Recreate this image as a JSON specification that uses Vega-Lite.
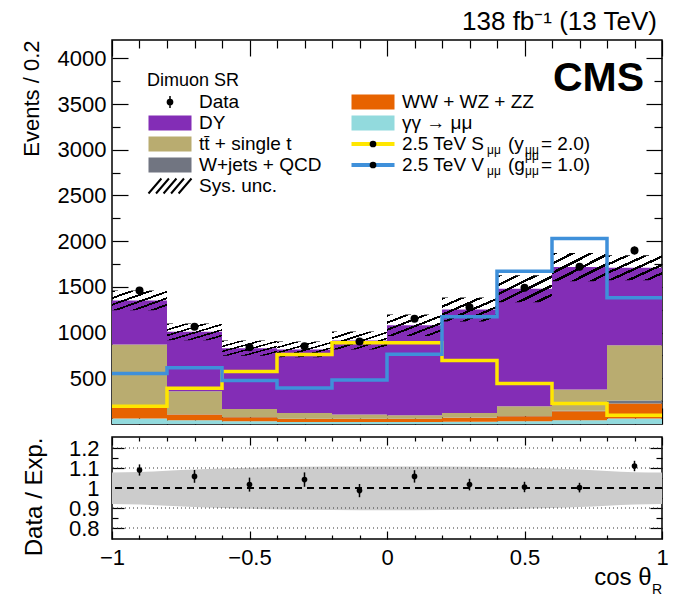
{
  "$schema": "https://vega.github.io/schema/vega-lite/v6.json",
  "padding": {"left": 19, "top": 8, "right": 5, "bottom": 5},
  "background": "white",
  "datasets": {
    "stack": [
      {"lo": -1.0, "hi": -0.8, "proc": "gg", "rank": 1, "n": 59},
      {"lo": -0.8, "hi": -0.6, "proc": "gg", "rank": 1, "n": 41},
      {"lo": -0.6, "hi": -0.4, "proc": "gg", "rank": 1, "n": 30},
      {"lo": -0.4, "hi": -0.2, "proc": "gg", "rank": 1, "n": 23},
      {"lo": -0.2, "hi": 0.0, "proc": "gg", "rank": 1, "n": 23},
      {"lo": 0.0, "hi": 0.2, "proc": "gg", "rank": 1, "n": 23},
      {"lo": 0.2, "hi": 0.4, "proc": "gg", "rank": 1, "n": 25},
      {"lo": 0.4, "hi": 0.6, "proc": "gg", "rank": 1, "n": 30},
      {"lo": 0.6, "hi": 0.8, "proc": "gg", "rank": 1, "n": 41},
      {"lo": 0.8, "hi": 1.0, "proc": "gg", "rank": 1, "n": 59},
      {"lo": -1.0, "hi": -0.8, "proc": "vv", "rank": 2, "n": 117},
      {"lo": -0.8, "hi": -0.6, "proc": "vv", "rank": 2, "n": 62},
      {"lo": -0.6, "hi": -0.4, "proc": "vv", "rank": 2, "n": 44},
      {"lo": -0.4, "hi": -0.2, "proc": "vv", "rank": 2, "n": 33},
      {"lo": -0.2, "hi": 0.0, "proc": "vv", "rank": 2, "n": 33},
      {"lo": 0.0, "hi": 0.2, "proc": "vv", "rank": 2, "n": 33},
      {"lo": 0.2, "hi": 0.4, "proc": "vv", "rank": 2, "n": 42},
      {"lo": 0.4, "hi": 0.6, "proc": "vv", "rank": 2, "n": 55},
      {"lo": 0.6, "hi": 0.8, "proc": "vv", "rank": 2, "n": 98},
      {"lo": 0.8, "hi": 1.0, "proc": "vv", "rank": 2, "n": 164},
      {"lo": -1.0, "hi": -0.8, "proc": "wj", "rank": 3, "n": 4},
      {"lo": -0.8, "hi": -0.6, "proc": "wj", "rank": 3, "n": 3},
      {"lo": -0.6, "hi": -0.4, "proc": "wj", "rank": 3, "n": 3},
      {"lo": -0.4, "hi": -0.2, "proc": "wj", "rank": 3, "n": 2},
      {"lo": -0.2, "hi": 0.0, "proc": "wj", "rank": 3, "n": 2},
      {"lo": 0.0, "hi": 0.2, "proc": "wj", "rank": 3, "n": 2},
      {"lo": 0.2, "hi": 0.4, "proc": "wj", "rank": 3, "n": 3},
      {"lo": 0.4, "hi": 0.6, "proc": "wj", "rank": 3, "n": 3},
      {"lo": 0.6, "hi": 0.8, "proc": "wj", "rank": 3, "n": 6},
      {"lo": 0.8, "hi": 1.0, "proc": "wj", "rank": 3, "n": 33},
      {"lo": -1.0, "hi": -0.8, "proc": "tt", "rank": 4, "n": 689},
      {"lo": -0.8, "hi": -0.6, "proc": "tt", "rank": 4, "n": 252},
      {"lo": -0.6, "hi": -0.4, "proc": "tt", "rank": 4, "n": 88},
      {"lo": -0.4, "hi": -0.2, "proc": "tt", "rank": 4, "n": 63},
      {"lo": -0.2, "hi": 0.0, "proc": "tt", "rank": 4, "n": 45},
      {"lo": 0.0, "hi": 0.2, "proc": "tt", "rank": 4, "n": 39},
      {"lo": 0.2, "hi": 0.4, "proc": "tt", "rank": 4, "n": 51},
      {"lo": 0.4, "hi": 0.6, "proc": "tt", "rank": 4, "n": 106},
      {"lo": 0.6, "hi": 0.8, "proc": "tt", "rank": 4, "n": 232},
      {"lo": 0.8, "hi": 1.0, "proc": "tt", "rank": 4, "n": 606},
      {"lo": -1.0, "hi": -0.8, "proc": "dy", "rank": 5, "n": 482},
      {"lo": -0.8, "hi": -0.6, "proc": "dy", "rank": 5, "n": 650},
      {"lo": -0.6, "hi": -0.4, "proc": "dy", "rank": 5, "n": 664},
      {"lo": -0.4, "hi": -0.2, "proc": "dy", "rank": 5, "n": 694},
      {"lo": -0.2, "hi": 0.0, "proc": "dy", "rank": 5, "n": 810},
      {"lo": 0.0, "hi": 0.2, "proc": "dy", "rank": 5, "n": 983},
      {"lo": 0.2, "hi": 0.4, "proc": "dy", "rank": 5, "n": 1131},
      {"lo": 0.4, "hi": 0.6, "proc": "dy", "rank": 5, "n": 1285},
      {"lo": 0.6, "hi": 0.8, "proc": "dy", "rank": 5, "n": 1339},
      {"lo": 0.8, "hi": 1.0, "proc": "dy", "rank": 5, "n": 847}
    ],
    "hatch": [
      {"lo": -1.0, "hi": -0.8, "dn": 1243, "up": 1459},
      {"lo": -0.8, "hi": -0.6, "dn": 917, "up": 1099},
      {"lo": -0.6, "hi": -0.4, "dn": 746, "up": 912},
      {"lo": -0.4, "hi": -0.2, "dn": 729, "up": 901},
      {"lo": -0.2, "hi": 0.0, "dn": 814, "up": 1012},
      {"lo": 0.0, "hi": 0.2, "dn": 963, "up": 1197},
      {"lo": 0.2, "hi": 0.4, "dn": 1121, "up": 1383},
      {"lo": 0.4, "hi": 0.6, "dn": 1331, "up": 1627},
      {"lo": 0.6, "hi": 0.8, "dn": 1562, "up": 1870},
      {"lo": 0.8, "hi": 1.0, "dn": 1572, "up": 1846}
    ],
    "sig": [
      {"proc": "S", "x": -1.0, "n": 194},
      {"proc": "S", "x": -0.8, "n": 391},
      {"proc": "S", "x": -0.6, "n": 574},
      {"proc": "S", "x": -0.4, "n": 760},
      {"proc": "S", "x": -0.2, "n": 888},
      {"proc": "S", "x": 0.0, "n": 888},
      {"proc": "S", "x": 0.2, "n": 694},
      {"proc": "S", "x": 0.4, "n": 442},
      {"proc": "S", "x": 0.6, "n": 223},
      {"proc": "S", "x": 0.8, "n": 95},
      {"proc": "S", "x": 1.0, "n": 95},
      {"proc": "V", "x": -1.0, "n": 552},
      {"proc": "V", "x": -0.8, "n": 614},
      {"proc": "V", "x": -0.6, "n": 475},
      {"proc": "V", "x": -0.4, "n": 395},
      {"proc": "V", "x": -0.2, "n": 482},
      {"proc": "V", "x": 0.0, "n": 763},
      {"proc": "V", "x": 0.2, "n": 1172},
      {"proc": "V", "x": 0.4, "n": 1672},
      {"proc": "V", "x": 0.6, "n": 2030},
      {"proc": "V", "x": 0.8, "n": 1380},
      {"proc": "V", "x": 1.0, "n": 1380}
    ],
    "obs": [
      {"x": -0.9, "n": 1460, "err": 38},
      {"x": -0.7, "n": 1063, "err": 33},
      {"x": -0.5, "n": 840, "err": 29},
      {"x": -0.3, "n": 851, "err": 29},
      {"x": -0.1, "n": 902, "err": 30},
      {"x": 0.1, "n": 1150, "err": 34},
      {"x": 0.3, "n": 1278, "err": 36},
      {"x": 0.5, "n": 1490, "err": 39},
      {"x": 0.7, "n": 1720, "err": 41},
      {"x": 0.9, "n": 1898, "err": 44}
    ],
    "ratio": [
      {"x": -0.9, "r": 1.09, "e": 0.028},
      {"x": -0.7, "r": 1.058, "e": 0.032},
      {"x": -0.5, "r": 1.017, "e": 0.035},
      {"x": -0.3, "r": 1.042, "e": 0.036},
      {"x": -0.1, "r": 0.987, "e": 0.033},
      {"x": 0.1, "r": 1.058, "e": 0.031},
      {"x": 0.3, "r": 1.017, "e": 0.029},
      {"x": 0.5, "r": 1.005, "e": 0.026},
      {"x": 0.7, "r": 1.002, "e": 0.024},
      {"x": 0.9, "r": 1.11, "e": 0.026}
    ],
    "band": [
      {"x": -1.0, "lo": 0.92, "hi": 1.078},
      {"x": -0.9, "lo": 0.917, "hi": 1.08},
      {"x": -0.7, "lo": 0.905, "hi": 1.092},
      {"x": -0.5, "lo": 0.896, "hi": 1.101},
      {"x": -0.3, "lo": 0.891, "hi": 1.106},
      {"x": -0.1, "lo": 0.889, "hi": 1.108},
      {"x": 0.1, "lo": 0.889, "hi": 1.108},
      {"x": 0.3, "lo": 0.891, "hi": 1.106},
      {"x": 0.5, "lo": 0.896, "hi": 1.101},
      {"x": 0.7, "lo": 0.905, "hi": 1.092},
      {"x": 0.9, "lo": 0.918, "hi": 1.079},
      {"x": 1.0, "lo": 0.92, "hi": 1.078}
    ],
    "legend": [
      {"kind": "header", "col": 0, "row": 0, "label": "Dimuon SR"},
      {"kind": "data", "col": 0, "row": 1, "label": "Data"},
      {"kind": "box", "col": 0, "row": 2, "proc": "dy", "label": "DY"},
      {"kind": "box", "col": 0, "row": 3, "proc": "tt", "label": "tt\u0304 + single t"},
      {"kind": "box", "col": 0, "row": 4, "proc": "wj", "label": "W+jets + QCD"},
      {"kind": "hatch", "col": 0, "row": 5, "label": "Sys. unc."},
      {"kind": "box", "col": 1, "row": 1, "proc": "vv", "label": "WW + WZ + ZZ"},
      {"kind": "box", "col": 1, "row": 2, "proc": "gg", "label": "γγ → μμ"},
      {"kind": "line", "col": 1, "row": 3, "proc": "S", "label": "2.5 TeV S", "mid": "(y", "tail": "= 2.0)", "sub1": "μμ", "sub2": "μμ"},
      {"kind": "line", "col": 1, "row": 4, "proc": "V", "label": "2.5 TeV V", "mid": "(g", "tail": "= 1.0)", "sub1": "μμ", "sub2": "μμ", "sup2": "μμ"}
    ]
  },
  "spacing": 9,
  "vconcat": [
    {
      "width": 550,
      "height": 384,
      "title": {"text": "138 fb⁻¹ (13 TeV)", "anchor": "end", "frame": "group", "fontSize": 26, "fontWeight": "normal", "font": "Liberation Sans", "offset": 4, "dx": -5},
      "layer": [
        {
          "layer": [
            {
              "data": {"name": "stack"},
              "transform": [{"stack": "n", "groupby": ["lo"], "sort": [{"field": "rank", "order": "ascending"}], "as": ["y0", "y1"]}],
              "mark": {"type": "rect", "strokeWidth": 0},
              "encoding": {
                "x": {"field": "lo", "type": "quantitative", "scale": {"domain": [-1, 1], "nice": false, "zero": false},
                  "axis": {"orient": "bottom", "values": [-1,-0.9,-0.8,-0.7,-0.6,-0.5,-0.4,-0.3,-0.2,-0.1,0,0.1,0.2,0.3,0.4,0.5,0.6,0.7,0.8,0.9,1], "labels": false, "title": null, "tickSize": -16,
                    "tickDash": {"condition": {"test": "abs(datum.value*2-round(datum.value*2))>0.001", "value": [8, 40]}, "value": []}}},
                "x2": {"field": "hi"},
                "y": {"field": "y0", "type": "quantitative", "scale": {"domain": [0, 4200], "nice": false},
                  "axis": {"orient": "left", "values": [250,500,750,1000,1250,1500,1750,2000,2250,2500,2750,3000,3250,3500,3750,4000], "format": "d",
                    "labelExpr": "datum.value % 500 === 0 ? datum.label : ''", "tickSize": -16, "labelPadding": 22,
                    "tickDash": {"condition": {"test": "datum.value % 500 !== 0", "value": [8, 40]}, "value": []},
                    "title": "Events / 0.2", "titleAnchor": "end", "titlePadding": 14}},
                "y2": {"field": "y1"},
                "color": {"field": "proc", "type": "nominal", "legend": null,
                  "scale": {"domain": ["dy","tt","wj","vv","gg","S","V"], "range": ["#832db6","#b9ac70","#717581","#e76300","#92dadd","#ffe600","#3f90da"]}}
              }
            },
            {
              "data": {"name": "hatch"},
              "mark": {"type": "rect", "strokeWidth": 0,
                "fill": {"gradient": "linear", "x1": 0, "y1": 0, "x2": 1, "y2": 1, "stops": [
                  {"offset": 0, "color": "black"}, {"offset": 0.05, "color": "black"}, {"offset": 0.05, "color": "rgba(0,0,0,0)"}, {"offset": 0.1667, "color": "rgba(0,0,0,0)"},
                  {"offset": 0.1667, "color": "black"}, {"offset": 0.2167, "color": "black"}, {"offset": 0.2167, "color": "rgba(0,0,0,0)"}, {"offset": 0.3333, "color": "rgba(0,0,0,0)"},
                  {"offset": 0.3333, "color": "black"}, {"offset": 0.3833, "color": "black"}, {"offset": 0.3833, "color": "rgba(0,0,0,0)"}, {"offset": 0.5, "color": "rgba(0,0,0,0)"},
                  {"offset": 0.5, "color": "black"}, {"offset": 0.55, "color": "black"}, {"offset": 0.55, "color": "rgba(0,0,0,0)"}, {"offset": 0.6667, "color": "rgba(0,0,0,0)"},
                  {"offset": 0.6667, "color": "black"}, {"offset": 0.7167, "color": "black"}, {"offset": 0.7167, "color": "rgba(0,0,0,0)"}, {"offset": 0.8333, "color": "rgba(0,0,0,0)"},
                  {"offset": 0.8333, "color": "black"}, {"offset": 0.8833, "color": "black"}, {"offset": 0.8833, "color": "rgba(0,0,0,0)"}, {"offset": 1, "color": "rgba(0,0,0,0)"}
                ]}},
              "encoding": {
                "x": {"field": "lo", "type": "quantitative",
                  "axis": {"orient": "top", "values": [-1,-0.9,-0.8,-0.7,-0.6,-0.5,-0.4,-0.3,-0.2,-0.1,0,0.1,0.2,0.3,0.4,0.5,0.6,0.7,0.8,0.9,1], "labels": false, "title": null, "tickSize": -16,
                    "tickDash": {"condition": {"test": "abs(datum.value*2-round(datum.value*2))>0.001", "value": [8, 40]}, "value": []}}},
                "x2": {"field": "hi"},
                "y": {"field": "dn", "type": "quantitative",
                  "axis": {"orient": "right", "values": [250,500,750,1000,1250,1500,1750,2000,2250,2500,2750,3000,3250,3500,3750,4000], "labels": false, "title": null, "tickSize": -16,
                    "tickDash": {"condition": {"test": "datum.value % 500 !== 0", "value": [8, 40]}, "value": []}}},
                "y2": {"field": "up"}
              }
            },
            {
              "data": {"name": "sig"},
              "mark": {"type": "line", "interpolate": "step-after", "strokeWidth": 3.5},
              "encoding": {
                "x": {"field": "x", "type": "quantitative", "axis": null},
                "y": {"field": "n", "type": "quantitative", "axis": null},
                "color": {"field": "proc", "type": "nominal", "legend": null,
                  "scale": {"domain": ["dy","tt","wj","vv","gg","S","V"], "range": ["#832db6","#b9ac70","#717581","#e76300","#92dadd","#ffe600","#3f90da"]}}
              }
            },
            {
              "data": {"name": "obs"},
              "mark": {"type": "errorbar", "ticks": false, "color": "black", "thickness": 1.5},
              "encoding": {
                "x": {"field": "x", "type": "quantitative", "axis": null},
                "y": {"field": "n", "type": "quantitative", "axis": null},
                "yError": {"field": "err"}
              }
            },
            {
              "data": {"name": "obs"},
              "mark": {"type": "point", "shape": "circle", "filled": true, "color": "black", "size": 64, "opacity": 1},
              "encoding": {
                "x": {"field": "x", "type": "quantitative", "axis": null},
                "y": {"field": "n", "type": "quantitative", "axis": null}
              }
            },
            {
              "data": {"values": [{}]},
              "mark": {"type": "text", "text": "CMS", "align": "right", "baseline": "middle", "fontSize": 41, "fontWeight": "bold", "font": "Liberation Sans"},
              "encoding": {
                "x": {"datum": 0.935, "type": "quantitative", "axis": null},
                "y": {"datum": 3771, "type": "quantitative", "axis": null}
              }
            }
          ]
        },
        {
          "data": {"name": "legend"},
          "encoding": {
            "x": {"field": "col", "type": "quantitative", "scale": {"domain": [0, 1], "range": [58, 261], "zero": false, "nice": false}, "axis": null},
            "y": {"field": "row", "type": "quantitative", "scale": {"domain": [0, 5], "range": [41, 146], "zero": false, "nice": false}, "axis": null}
          },
          "layer": [
            {
              "transform": [{"filter": "datum.kind === 'header'"}],
              "mark": {"type": "text", "align": "left", "baseline": "middle", "dx": -23, "fontSize": 18},
              "encoding": {"text": {"field": "label"}}
            },
            {
              "transform": [{"filter": "datum.kind !== 'header'"}],
              "mark": {"type": "text", "align": "left", "baseline": "middle", "dx": 29, "fontSize": 19},
              "encoding": {"text": {"field": "label"}}
            },
            {
              "transform": [{"filter": "datum.kind === 'line'"}],
              "mark": {"type": "text", "align": "left", "baseline": "middle", "dx": 135, "fontSize": 19},
              "encoding": {"text": {"field": "mid"}}
            },
            {
              "transform": [{"filter": "datum.kind === 'line'"}],
              "mark": {"type": "text", "align": "left", "baseline": "middle", "dx": 168, "fontSize": 19},
              "encoding": {"text": {"field": "tail"}}
            },
            {
              "transform": [{"filter": "datum.kind === 'box'"}],
              "mark": {"type": "point", "shape": "M-1,-0.35H1V0.35H-1Z", "size": 1849, "filled": true, "opacity": 1, "strokeWidth": 0},
              "encoding": {
                "color": {"field": "proc", "type": "nominal", "legend": null,
                  "scale": {"domain": ["dy","tt","wj","vv","gg","S","V"], "range": ["#832db6","#b9ac70","#717581","#e76300","#92dadd","#ffe600","#3f90da"]}}
              }
            },
            {
              "transform": [{"filter": "datum.kind === 'hatch'"}],
              "mark": {"type": "point", "shape": "M-1,0.35L-0.4,-0.35M-0.65,0.35L-0.05,-0.35M-0.3,0.35L0.3,-0.35M0.05,0.35L0.65,-0.35M0.4,0.35L1,-0.35", "size": 1849, "filled": false, "opacity": 1, "stroke": "black", "strokeWidth": 2}
            },
            {
              "transform": [{"filter": "datum.kind === 'line'"}],
              "mark": {"type": "point", "shape": "M-1,0H1", "size": 1849, "filled": false, "opacity": 1, "strokeWidth": 4},
              "encoding": {
                "color": {"field": "proc", "type": "nominal", "legend": null,
                  "scale": {"domain": ["dy","tt","wj","vv","gg","S","V"], "range": ["#832db6","#b9ac70","#717581","#e76300","#92dadd","#ffe600","#3f90da"]}}
              }
            },
            {
              "transform": [{"filter": "datum.kind === 'data'"}],
              "mark": {"type": "point", "shape": "M0,-1V1", "size": 144, "filled": false, "opacity": 1, "stroke": "black", "strokeWidth": 1.5}
            },
            {
              "transform": [{"filter": "datum.kind === 'line' || datum.kind === 'data'"}],
              "mark": {"type": "point", "shape": "circle", "filled": true, "color": "black", "size": 45, "opacity": 1}
            },
            {
              "transform": [{"filter": "datum.kind === 'line'"}],
              "mark": {"type": "text", "align": "left", "baseline": "middle", "dx": 114, "dy": 6, "fontSize": 12},
              "encoding": {"text": {"field": "sub1"}}
            },
            {
              "transform": [{"filter": "datum.kind === 'line'"}],
              "mark": {"type": "text", "align": "left", "baseline": "middle", "dx": 152, "dy": 6, "fontSize": 12},
              "encoding": {"text": {"field": "sub2"}}
            },
            {
              "transform": [{"filter": "datum.sup2 != null"}],
              "mark": {"type": "text", "align": "left", "baseline": "middle", "dx": 152, "dy": -9, "fontSize": 12},
              "encoding": {"text": {"field": "sup2"}}
            }
          ]
        }
      ],
      "resolve": {"scale": {"x": "independent", "y": "independent"}}
    },
    {
      "width": 550,
      "height": 102,
      "layer": [
        {
          "data": {"name": "band"},
          "mark": {"type": "area", "interpolate": "monotone", "color": "#cccccc", "opacity": 1},
          "encoding": {
            "x": {"field": "x", "type": "quantitative", "scale": {"domain": [-1, 1], "nice": false, "zero": false},
              "axis": {"orient": "bottom", "values": [-1,-0.9,-0.8,-0.7,-0.6,-0.5,-0.4,-0.3,-0.2,-0.1,0,0.1,0.2,0.3,0.4,0.5,0.6,0.7,0.8,0.9,1], "format": "~g",
                "labelExpr": "abs(datum.value*2-round(datum.value*2))<0.001 ? datum.label : ''", "labelFlush": false, "labelOverlap": false, "tickSize": -8, "labelPadding": 16,
                "tickDash": {"condition": {"test": "abs(datum.value*2-round(datum.value*2))>0.001", "value": [4, 40]}, "value": []},
                "title": "cos θ", "titleFontSize": 24, "titleAlign": "right", "titleX": 539, "titleY": 45, "titleBaseline": "alphabetic"}},
            "y": {"field": "lo", "type": "quantitative", "scale": {"domain": [0.745, 1.255], "nice": false, "zero": false},
              "axis": {"orient": "left", "values": [0.8,0.85,0.9,0.95,1,1.05,1.1,1.15,1.2], "format": "~g",
                "labelExpr": "abs(datum.value*10-round(datum.value*10))<0.001 ? datum.label : ''", "labelOverlap": false, "tickSize": -12, "labelPadding": 25,
                "tickDash": {"condition": {"test": "abs(datum.value*10-round(datum.value*10))>0.001", "value": [6, 40]}, "value": []},
                "title": "Data / Exp.", "titleFontSize": 24, "titleAnchor": "end", "titlePadding": 22}},
            "y2": {"field": "hi"}
          }
        },
        {
          "data": {"values": [{}]},
          "mark": {"type": "rule", "strokeDash": [1, 3], "color": "#333333", "strokeWidth": 1},
          "encoding": {"y": {"datum": 0.8, "type": "quantitative", "axis": null}}
        },
        {
          "data": {"values": [{}]},
          "mark": {"type": "rule", "strokeDash": [1, 3], "color": "#333333", "strokeWidth": 1},
          "encoding": {"y": {"datum": 0.9, "type": "quantitative", "axis": null}}
        },
        {
          "data": {"values": [{}]},
          "mark": {"type": "rule", "strokeDash": [1, 3], "color": "#333333", "strokeWidth": 1},
          "encoding": {"y": {"datum": 1.1, "type": "quantitative", "axis": null}}
        },
        {
          "data": {"values": [{}]},
          "mark": {"type": "rule", "strokeDash": [1, 3], "color": "#333333", "strokeWidth": 1},
          "encoding": {"y": {"datum": 1.2, "type": "quantitative", "axis": null}}
        },
        {
          "data": {"values": [{}]},
          "mark": {"type": "rule", "strokeDash": [7, 5], "color": "black", "strokeWidth": 2},
          "encoding": {"y": {"datum": 1, "type": "quantitative", "axis": null}}
        },
        {
          "data": {"name": "ratio"},
          "mark": {"type": "errorbar", "ticks": false, "color": "black", "thickness": 1.5},
          "encoding": {
            "x": {"field": "x", "type": "quantitative", "axis": null},
            "y": {"field": "r", "type": "quantitative", "axis": null},
            "yError": {"field": "e"}
          }
        },
        {
          "data": {"name": "ratio"},
          "mark": {"type": "point", "shape": "circle", "filled": true, "color": "black", "size": 32, "opacity": 1},
          "encoding": {
            "x": {"field": "x", "type": "quantitative",
              "axis": {"orient": "top", "values": [-1,-0.9,-0.8,-0.7,-0.6,-0.5,-0.4,-0.3,-0.2,-0.1,0,0.1,0.2,0.3,0.4,0.5,0.6,0.7,0.8,0.9,1], "labels": false, "title": null, "tickSize": -8,
                "tickDash": {"condition": {"test": "abs(datum.value*2-round(datum.value*2))>0.001", "value": [4, 40]}, "value": []}}},
            "y": {"field": "r", "type": "quantitative",
              "axis": {"orient": "right", "values": [0.8,0.85,0.9,0.95,1,1.05,1.1,1.15,1.2], "labels": false, "title": null, "tickSize": -12,
                "tickDash": {"condition": {"test": "abs(datum.value*10-round(datum.value*10))>0.001", "value": [6, 40]}, "value": []}}}
          }
        },
        {
          "data": {"values": [{}]},
          "mark": {"type": "text", "text": "R", "align": "left", "baseline": "alphabetic", "dx": -10, "dy": 55, "fontSize": 14},
          "encoding": {
            "x": {"datum": 1, "type": "quantitative", "axis": null},
            "y": {"datum": 0.745, "type": "quantitative", "axis": null}
          }
        }
      ]
    }
  ],
  "config": {
    "font": "Liberation Sans",
    "view": {"stroke": "black", "strokeWidth": 1.5},
    "axis": {"domain": false, "grid": false, "zindex": 1, "labelFont": "Liberation Sans", "labelFontSize": 22, "labelColor": "black",
      "titleFont": "Liberation Sans", "titleFontSize": 22, "titleFontWeight": "normal", "titleColor": "black", "tickColor": "black", "tickWidth": 1.2},
    "text": {"font": "Liberation Sans", "color": "black"}
  }
}
